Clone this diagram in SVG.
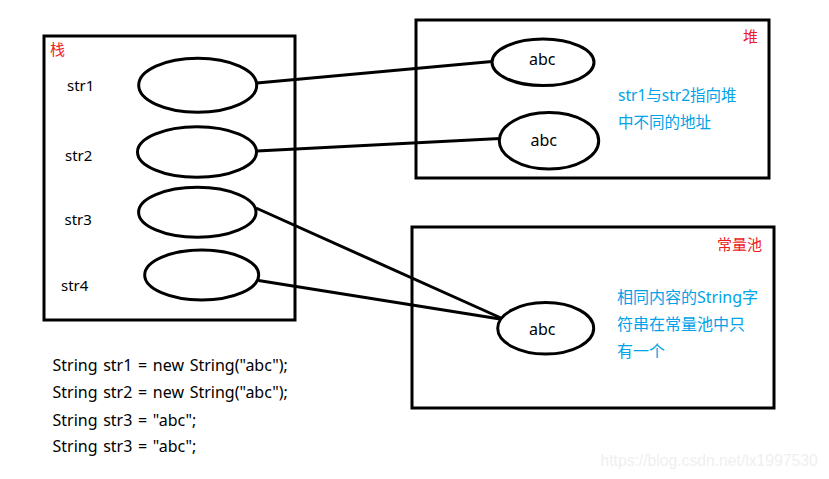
<svg xmlns="http://www.w3.org/2000/svg" width="829" height="479" viewBox="0 0 829 479">
<style>
.box{fill:none;stroke:#000;stroke-width:3}
.ell{fill:#fff;stroke:#000;stroke-width:3}
.ln{stroke:#000;stroke-width:3;fill:none}
.t{font-family:"Noto Sans","Noto Sans CJK SC",sans-serif;font-size:15px;fill:#000}
.abc{font-size:16px}
.code{font-size:16px;word-spacing:1.5px}
.red{font-family:"Noto Sans CJK SC",sans-serif;font-size:15px;fill:#ed1c24}
.blue{font-family:"Noto Sans","Noto Sans CJK SC",sans-serif;font-size:16px;fill:#00a2e8}
.wm{font-family:"Liberation Sans",sans-serif;font-size:15.7px;fill:#efefef}
</style>
<rect width="829" height="479" fill="#fff"/>
<g id="stack">
<rect class="box" x="44" y="36" width="251" height="284"/>
<text class="red" x="50" y="55">栈</text>
</g>
<g id="heap">
<rect class="box" x="416" y="20" width="353" height="158"/>
<text class="red" x="743" y="42">堆</text>
<text class="blue" x="618" y="101" style="font-size:15.5px">str1与str2指向堆</text>
<text class="blue" x="618" y="128" style="font-size:15.5px">中不同的地址</text>
</g>
<g id="pool">
<rect class="box" x="412" y="227" width="362" height="181"/>
<text class="red" x="717" y="250">常量池</text>
<text class="blue" x="617" y="303">相同内容的String字</text>
<text class="blue" x="617" y="330">符串在常量池中只</text>
<text class="blue" x="617" y="357">有一个</text>
</g>
<g id="connectors">
<line class="ln" x1="257" y1="83" x2="492" y2="61.5"/>
<line class="ln" x1="257" y1="151" x2="500" y2="138.5"/>
<line class="ln" x1="256" y1="208" x2="501" y2="318"/>
<line class="ln" x1="258.5" y1="280.5" x2="500" y2="319"/>
</g>
<g id="str1">
<ellipse class="ell" cx="197.7" cy="85.3" rx="59" ry="27"/>
<text class="t" x="67" y="91">str1</text>
</g>
<g id="str2">
<ellipse class="ell" cx="197" cy="152" rx="59.5" ry="25.3"/>
<text class="t" x="65" y="161">str2</text>
</g>
<g id="str3">
<ellipse class="ell" cx="197.3" cy="212.3" rx="58.7" ry="25"/>
<text class="t" x="64.5" y="225">str3</text>
</g>
<g id="str4">
<ellipse class="ell" cx="201.7" cy="275" rx="57" ry="25"/>
<text class="t" x="61" y="290.5">str4</text>
</g>
<g id="heap-abc1">
<ellipse class="ell" cx="543" cy="62.3" rx="51" ry="23.3"/>
<text class="t abc" x="529" y="65">abc</text>
</g>
<g id="heap-abc2">
<ellipse class="ell" cx="549" cy="140.7" rx="49.7" ry="28.3"/>
<text class="t abc" x="530.5" y="145.5">abc</text>
</g>
<g id="pool-abc">
<ellipse class="ell" cx="545.7" cy="328.3" rx="48" ry="25.7"/>
<text class="t abc" x="529" y="335">abc</text>
</g>
<g id="code">
<text class="t code" x="52.5" y="371">String str1 = new String("abc");</text>
<text class="t code" x="52.5" y="398">String str2 = new String("abc");</text>
<text class="t code" x="52.5" y="425.5">String str3 = "abc";</text>
<text class="t code" x="52.5" y="452">String str3 = "abc";</text>
</g>
<text class="wm" x="600.5" y="466">https://blog.csdn.net/lx1997530</text>
</svg>
